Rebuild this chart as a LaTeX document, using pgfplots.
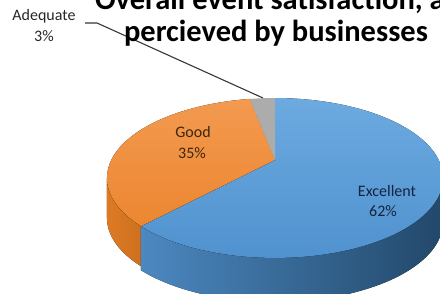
\documentclass[border=0pt]{standalone}
\usepackage{pgfplots}
\pgfplotsset{compat=1.18}
\usepackage{pgfplotstable}
\usepackage{fontspec}
\setmainfont{Carlito}

\definecolor{blueTopA}{RGB}{108,170,224}
\definecolor{blueTopB}{RGB}{80,146,207}
\definecolor{blueSideA}{RGB}{76,136,192}
\definecolor{blueSideB}{RGB}{34,72,106}
\definecolor{orTopA}{RGB}{243,154,80}
\definecolor{orTopB}{RGB}{236,134,48}
\definecolor{orSideA}{RGB}{222,122,36}
\definecolor{orSideB}{RGB}{206,112,30}
\definecolor{grayTop}{RGB}{172,172,172}
\definecolor{leader}{RGB}{55,55,55}

\pgfplotstableread{
label value
Excellent 62
Good 35
Adequate 3
}\piedata
\pgfplotstablegetelem{0}{value}\of\piedata \let\vE\pgfplotsretval
\pgfplotstablegetelem{1}{value}\of\piedata \let\vG\pgfplotsretval
\pgfplotstablegetelem{2}{value}\of\piedata \let\vA\pgfplotsretval
\pgfmathsetmacro\tot{\vE+\vG+\vA}
\pgfmathsetmacro\angS{90}
\pgfmathsetmacro\angA{90+360*(\vA/\tot)}
\pgfmathsetmacro\angG{\angA+360*(\vG/\tot)}
\pgfmathsetmacro\angE{\angG+360*(\vE/\tot)}
\def\silL{193}
\def\silR{347}

\begin{document}
\begin{tikzpicture}[declare function={pxx(\p)=275+163.7*cos(\p)/(1+0.225*sin(\p)); pyy(\p)=134+75.9*sin(\p)/(1+0.225*sin(\p));}]
\begin{axis}[x=1pt,y=1pt,xmin=0,xmax=440,ymin=0,ymax=294,
  hide axis, at={(0pt,0pt)}, anchor=south west, clip=true]
% sides
\fill[left color=orSideA, right color=orSideB]
  ({pxx(\silL)},{pyy(\silL)})
  \foreach \i in {1,...,30}{ -- ({pxx(\silL+(\angG-\silL)*\i/30)},{pyy(\silL+(\angG-\silL)*\i/30)}) }
  \foreach \i in {30,...,0}{ -- ({pxx(\silL+(\angG-\silL)*\i/30)},{pyy(\silL+(\angG-\silL)*\i/30)-40}) }
  -- cycle;
\fill[left color=blueSideA, right color=blueSideB]
  ({pxx(\angG)},{pyy(\angG)})
  \foreach \i in {1,...,60}{ -- ({pxx(\angG+(\silR-\angG)*\i/60)},{pyy(\angG+(\silR-\angG)*\i/60)}) }
  \foreach \i in {60,...,0}{ -- ({pxx(\angG+(\silR-\angG)*\i/60)},{pyy(\angG+(\silR-\angG)*\i/60)-44}) }
  -- cycle;
% top faces
\fill[top color=blueTopA, bottom color=blueTopB]
  (275,134)
  \foreach \i in {0,...,90}{ -- ({pxx(\angG+(\angE-\angG)*\i/90)},{pyy(\angG+(\angE-\angG)*\i/90)}) }
  -- cycle;
\fill[top color=orTopA, bottom color=orTopB]
  (275,134)
  \foreach \i in {0,...,60}{ -- ({pxx(\angA+(\angG-\angA)*\i/60)},{pyy(\angA+(\angG-\angA)*\i/60)}) }
  -- cycle;
\fill[grayTop]
  (275,134)
  \foreach \i in {0,...,10}{ -- ({pxx(\angS+(\angA-\angS)*\i/10)},{pyy(\angS+(\angA-\angS)*\i/10)}) }
  -- cycle;
% leader line
\draw[leader, line width=1.1pt] (85,271) -- (97,271) -- (263,196);
% labels
\node[anchor=base, font=\fontsize{30.5}{36}\selectfont\bfseries] at (276,284) {Overall event satisfaction, as};
\node[anchor=base, font=\fontsize{30.5}{36}\selectfont\bfseries] at (276,252) {percieved by businesses};
\node[anchor=base, font=\fontsize{16}{19}\selectfont, text=black!85] at (44,273) {Adequate};
\node[anchor=base, font=\fontsize{16}{19}\selectfont, text=black!85] at (44,252) {3\%};
\node[anchor=base, font=\fontsize{16}{19}\selectfont, text={rgb,255:red,60;green,38;blue,15}] at (193,156) {Good};
\node[anchor=base, font=\fontsize{16}{19}\selectfont, text={rgb,255:red,60;green,38;blue,15}] at (192,135) {35\%};
\node[anchor=base, font=\fontsize{16}{19}\selectfont, text={rgb,255:red,20;green,35;blue,62}] at (387,97) {Excellent};
\node[anchor=base, font=\fontsize{16}{19}\selectfont, text={rgb,255:red,20;green,35;blue,62}] at (383,77) {62\%};
\end{axis}
\pgfresetboundingbox
\useasboundingbox (0,0) rectangle (440pt,294pt);
\end{tikzpicture}
\end{document}
